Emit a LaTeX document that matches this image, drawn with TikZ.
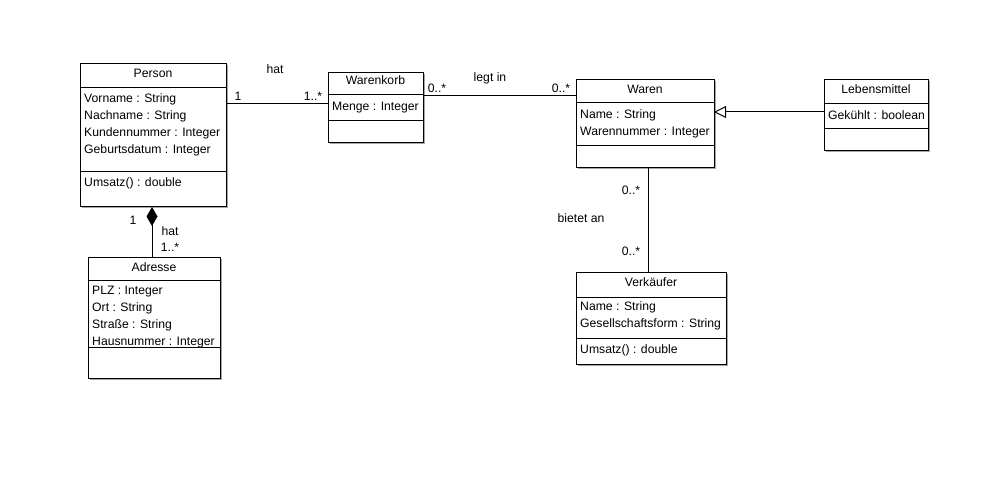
\documentclass[tikz,border=0pt]{standalone}
\usepackage{fontspec}
\setmainfont{Liberation Sans}
\usetikzlibrary{calc}
\usetikzlibrary{positioning}
\usetikzlibrary{arrows.meta}
\usetikzlibrary{shadows}

\begin{document}
\begin{tikzpicture}[x=1pt,y=-1pt,>=latex,
classbox/.style={draw,fill=white,line width=1pt,inner sep=0pt,outer sep=0pt,anchor=north west,
  drop shadow={shadow xshift=1.5pt,shadow yshift=-1.5pt,fill=black!35,opacity=1}},
title/.style={inner sep=0pt,text height=8pt,text depth=2pt,font=\fontsize{12.2}{14}\selectfont},
attr/.style={anchor=west,inner sep=0pt,text height=8pt,text depth=2pt,font=\fontsize{12.2}{14}\selectfont},
mult/.style={inner sep=0pt,text height=8pt,text depth=2pt,font=\fontsize{12.2}{14}\selectfont},
conn/.style={line width=1pt}]

\useasboundingbox (0,0) rectangle (1008,478);

% Person
\node[classbox,minimum width=146pt,minimum height=143pt] (person) at (80,64) {};
\draw[line width=1pt] (80,88) -- (226,88);
\draw[line width=1pt] (80,172) -- (226,172);
\node[title] (personT) at (153,75) {Person};
\node[attr] (p1) at (84,99.5) {Vorname : String};
\node[attr] (p2) at (84,116.5) {Nachname : String};
\node[attr] (p3) at (84,133.5) {Kundennummer : Integer};
\node[attr] (p4) at (84,150.5) {Geburtsdatum : Integer};
\node[attr] (p5) at (84,183.5) {Umsatz() : double};

% Adresse
\node[classbox,minimum width=132pt,minimum height=121pt] (adresse) at (88,257) {};
\draw[line width=1pt] (88,280) -- (220,280);
\draw[line width=1pt] (88,347) -- (220,347);
\node[title] (adresseT) at (154,268) {Adresse};
\node[attr] (a1) at (92,291.5) {PLZ : Integer};
\node[attr] (a2) at (92,308.5) {Ort : String};
\node[attr] (a3) at (92,325.5) {Straße : String};
\node[attr] (a4) at (92,342.5) {Hausnummer : Integer};

% Warenkorb
\node[classbox,minimum width=95pt,minimum height=70pt] (warenkorb) at (328,73) {};
\draw[line width=1pt] (328,95) -- (423,95);
\draw[line width=1pt] (328,121) -- (423,121);
\node[title] (warenkorbT) at (375.5,82) {Warenkorb};
\node[attr] (w1) at (332,107.5) {Menge : Integer};

% Waren
\node[classbox,minimum width=138pt,minimum height=88pt] (waren) at (576,80) {};
\draw[line width=1pt] (576,103) -- (714,103);
\draw[line width=1pt] (576,146) -- (714,146);
\node[title] (warenT) at (645,91) {Waren};
\node[attr] (r1) at (580,115.5) {Name : String};
\node[attr] (r2) at (580,132.5) {Warennummer : Integer};

% Lebensmittel
\node[classbox,minimum width=104pt,minimum height=71pt] (lebensmittel) at (824,80) {};
\draw[line width=1pt] (824,104) -- (928,104);
\draw[line width=1pt] (824,129) -- (928,129);
\node[title] (lebensmittelT) at (876,91) {Lebensmittel};
\node[attr] (l1) at (828,116.5) {Gekühlt : boolean};

% Verkaeufer
\node[classbox,minimum width=150pt,minimum height=92pt] (verkaeufer) at (576,272) {};
\draw[line width=1pt] (576,297) -- (726,297);
\draw[line width=1pt] (576,338) -- (726,338);
\node[title] (verkaeuferT) at (651,283) {Verkäufer};
\node[attr] (v1) at (580,307.5) {Name : String};
\node[attr] (v2) at (580,324.5) {Gesellschaftsform : String};
\node[attr] (v3) at (580,350.5) {Umsatz() : double};

% Verbindungen
\draw[conn] (person.east |- 0,104) -- (warenkorb.west |- 0,104);
\draw[conn] (warenkorb.east |- 0,96) -- (waren.west |- 0,96);
\draw[conn,{Diamond[length=19pt,width=11pt]}-] (person.south -| 152,0) -- (adresse.north -| 152,0);
\draw[conn,-{Triangle[open,length=12pt,width=12pt,line width=1pt]}] (lebensmittel.west |- 0,112) -- (waren.east |- 0,112);
\draw[conn] (waren.south -| 648,0) -- (verkaeufer.north -| 648,0);

% Beschriftungen
\node[mult] (hat1) at (275,70.5) {hat};
\node[mult] (m1) at (238,97.5) {1};
\node[mult] (m2) at (313,97.5) {1..*};
\node[mult] (legt) at (490,78.5) {legt in};
\node[mult] (m3) at (437,89.5) {0..*};
\node[mult] (m4) at (561,89.5) {0..*};
\node[mult] (m5) at (133,221.5) {1};
\node[mult] (hat2) at (170,232.5) {hat};
\node[mult] (m6) at (170,248.5) {1..*};
\node[mult] (m7) at (631,191.5) {0..*};
\node[mult] (biet) at (581,219.5) {bietet an};
\node[mult] (m8) at (631,252.5) {0..*};
\end{tikzpicture}
\end{document}
